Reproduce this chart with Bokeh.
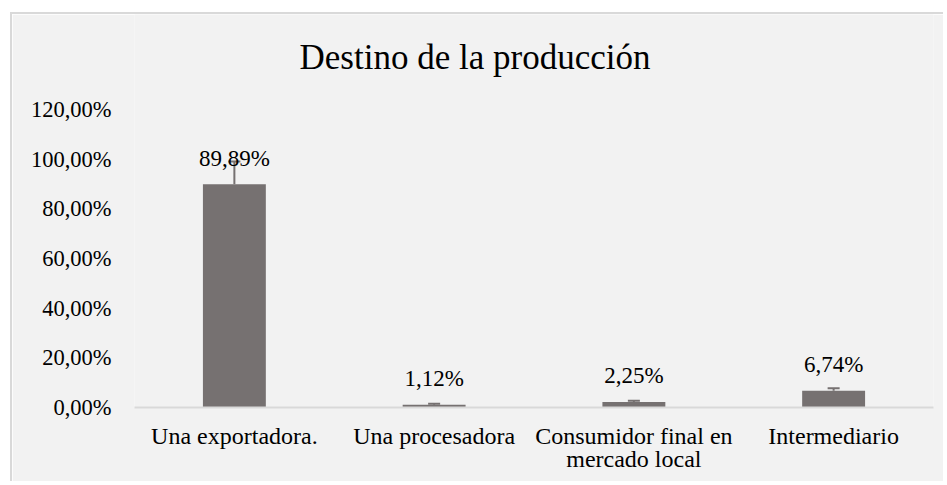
from bokeh.plotting import figure
from bokeh.models import Range1d, FixedTicker, Whisker, ColumnDataSource, TeeHead
from bokeh.core.properties import value
from bokeh.embed import file_html
from bokeh.resources import INLINE

categories = ["Una exportadora.", "Una procesadora", "Consumidor final en\nmercado local", "Intermediario"]
values = [89.89, 1.12, 2.25, 6.74]
value_labels = ["89,89%", "1,12%", "2,25%", "6,74%"]
error_upper = [9.2, 0.4, 0.5, 1.0]
y_ticks = [0, 20, 40, 60, 80, 100, 120]
y_tick_labels = ["0,00%", "20,00%", "40,00%", "60,00%", "80,00%", "100,00%", "120,00%"]
title_text = "Destino de la producción"

FONT = "Liberation Serif"
BAR = "#767171"
BG = "#f2f2f2"

xpos = [i + 0.5 for i in range(len(categories))]

# frame extends above the 120% tick to host the title (same fill colour, invisible)
Y_TOP = 158.25
p = figure(width=933, height=469, output_backend="svg", toolbar_location=None,
           x_range=Range1d(0, len(categories)), y_range=Range1d(0, Y_TOP),
           min_border_left=122, min_border_right=12, min_border_top=0, min_border_bottom=76,
           title=None)
p.margin = (12, 0, 0, 10)
p.styles = {"border-left": "2px solid #d9d9d9", "border-top": "2px solid #d9d9d9"}
p.background_fill_color = BG
p.border_fill_color = BG
p.outline_line_color = None
p.grid.visible = False

src = ColumnDataSource(dict(x=xpos, top=values, lab=value_labels,
                            up=[v + e for v, e in zip(values, error_upper)]))

p.vbar(x="x", top="top", width=0.315, bottom=0, source=src, fill_color=BAR, line_color=None)

w = Whisker(base="x", upper="up", lower="top", source=src, dimension="height",
            line_color=BAR, line_width=2,
            upper_head=TeeHead(size=12, line_color=BAR, line_width=2), lower_head=None)
p.add_layout(w)

p.text(x="x", y="top", text="lab", source=src, text_align="center", text_baseline="alphabetic",
       y_offset=-26, text_font=value(FONT), text_font_size="23px",
       text_font_style="normal", text_color="#000000")

# chart title (placed in the empty band above the 120% tick)
p.text(x=[1.7046], y=[141.0], text=[title_text], text_align="center", text_baseline="alphabetic",
       text_font=value(FONT), text_font_size="35px", text_font_style="normal", text_color="#000000")

# x axis
p.xaxis.ticker = FixedTicker(ticks=xpos)
p.xaxis.major_label_overrides = {x: c for x, c in zip(xpos, categories)}
p.xaxis.axis_line_color = "#d9d9d9"
p.xaxis.axis_line_width = 2
p.xaxis.major_tick_line_color = None
p.xaxis.minor_tick_line_color = None
p.xaxis.major_label_text_font = FONT
p.xaxis.major_label_text_font_size = "24px"
p.xaxis.major_label_text_font_style = "normal"
p.xaxis.major_label_text_line_height = 0.92
p.xaxis.major_label_text_color = "#000000"
p.xaxis.major_label_standoff = 9

# y axis
p.yaxis.ticker = FixedTicker(ticks=y_ticks)
p.yaxis.major_label_overrides = {t: l for t, l in zip(y_ticks, y_tick_labels)}
p.yaxis.axis_line_color = None
p.yaxis.major_tick_line_color = None
p.yaxis.minor_tick_line_color = None
p.yaxis.major_label_text_font = FONT
p.yaxis.major_label_text_font_size = "22.5px"
p.yaxis.major_label_text_font_style = "normal"
p.yaxis.major_label_text_color = "#000000"
p.yaxis.major_label_standoff = 17

open("out.html", "w").write(file_html(p, INLINE))
